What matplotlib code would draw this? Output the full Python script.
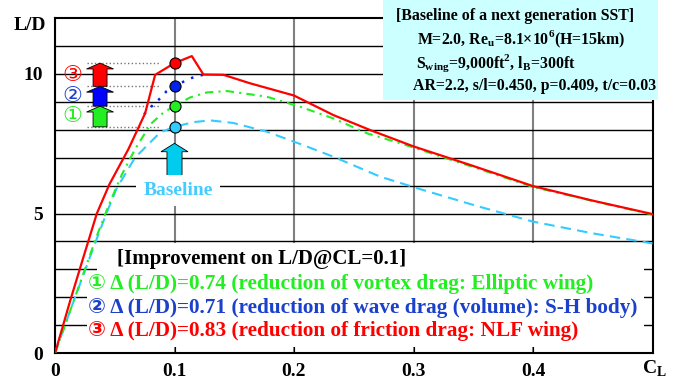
import matplotlib.pyplot as plt
from matplotlib.patches import FancyArrow, Rectangle

# baseline configuration (cyan dashed)
cl_base = [0, 0.0125, 0.025, 0.035, 0.043, 0.0516, 0.067, 0.088, 0.1, 0.116, 0.13, 0.149,
           0.177, 0.205, 0.233, 0.272, 0.3057, 0.353, 0.4, 0.45, 0.5]
ld_base = [0, 1.5, 2.95, 4.1, 5.0, 5.9, 7.0, 7.9, 8.10, 8.27, 8.33, 8.24,
           7.93, 7.49, 7.03, 6.32, 5.87, 5.27, 4.71, 4.29, 3.93]

# 1: elliptic wing (green dash-dot)
cl_ell = [0, 0.0125, 0.025, 0.035, 0.045, 0.056, 0.067, 0.08, 0.091, 0.1, 0.113, 0.127, 0.144,
          0.177, 0.205, 0.233, 0.261, 0.289, 0.3057, 0.353, 0.4, 0.45, 0.5]
ld_ell = [0, 1.5, 3.0, 4.2, 5.3, 6.4, 7.3, 8.2, 8.62, 8.84, 9.15, 9.33, 9.38,
          9.18, 8.82, 8.40, 7.87, 7.51, 7.28, 6.62, 5.95, 5.45, 4.96]

# 2: S-H body (blue dotted, only where it leaves the red curve)
cl_sh = [0.0745, 0.08, 0.088, 0.0935, 0.1, 0.11, 0.1186, 0.1242]
ld_sh = [8.55, 8.8, 9.12, 9.38, 9.55, 9.77, 9.92, 9.96]

# 3: NLF wing (red solid)
cl_nlf = [0, 0.0125, 0.0235, 0.035, 0.0456, 0.0614, 0.0754, 0.0838, 0.1, 0.1145, 0.1242,
          0.141, 0.163, 0.2, 0.233, 0.264, 0.3, 0.35, 0.4, 0.45, 0.5]
ld_nlf = [0, 1.85, 3.4, 5.0, 6.05, 7.3, 8.58, 9.96, 10.38, 10.63, 9.97,
          9.96, 9.66, 9.22, 8.52, 7.98, 7.4, 6.7, 5.98, 5.46, 4.98]

# L/D at CL=0.1 for baseline, +1, +2, +3
cl_mark = 0.1
ld_mark = [8.10, 8.84, 9.55, 10.38]
mark_colors = ['#33ccff', '#22ee22', '#0022ee', '#ff0000']

improve_labels = [
    '\u2460 \u0394 (L/D)=0.74 (reduction of vortex drag: Elliptic wing)',
    '\u2461 \u0394 (L/D)=0.71 (reduction of wave drag (volume): S-H body)',
    '\u2462 \u0394 (L/D)=0.83 (reduction of friction drag: NLF wing)',
]
improve_colors = ['#22ee22', '#1a40cc', '#ff0000']
circled = ['\u2460', '\u2461', '\u2462']

info_lines = [
    '[Baseline of a next generation SST]',
    'M=2.0, Re$_\\mathregular{u}$=8.1\u00d710$^\\mathregular{6}$(H=15km)',
    'S$_\\mathregular{wing}$=9,000ft$^\\mathregular{2}$, l$_\\mathregular{B}$=300ft',
    'AR=2.2, s/l=0.450, p=0.409, t/c=0.03',
]

plt.rcParams['font.family'] = ['Liberation Serif', 'DejaVu Sans', 'Noto Sans CJK JP']
plt.rcParams['font.weight'] = 'bold'

W, H = 682, 384
fig = plt.figure(figsize=(W / 100, H / 100), dpi=100)
ax = fig.add_axes([55 / W, 30.7 / H, 597.5 / W, 335.5 / H])
ax.set_xlim(0, 0.5)
ax.set_ylim(0, 12)
ax.set_axisbelow(True)

ax.set_xticks([0, 0.1, 0.2, 0.3, 0.4])
ax.set_xticklabels(['0', '0.1', '0.2', '0.3', '0.4'])
ax.set_yticks([0, 5, 10])
ax.set_yticks(range(1, 12), minor=True)
ax.grid(axis='y', which='both', color='black', lw=1)
ax.grid(axis='x', which='major', color='#808080', lw=1.5)
ax.tick_params(which='minor', length=0)
ax.tick_params(axis='x', direction='in', length=5, labelsize=14, pad=7)
ax.tick_params(axis='y', direction='in', length=0, labelsize=14, pad=9)
for s in ax.spines.values():
    s.set_linewidth(1.5)

# white box behind the improvement notes
ax.add_patch(Rectangle((0.027, 0.23), 0.4655, 2.67, fc='white', ec='none', zorder=1))
ax.add_patch(Rectangle((0.0352, 2.9), 0.4573, 1.05, fc='white', ec='none', zorder=1))

ax.plot(cl_base, ld_base, color='#33ccff', lw=1.5, dashes=(5, 3), zorder=3)
ax.plot(cl_ell, ld_ell, color='#22ee22', lw=1.5, dashes=(4, 2.5, 1, 2.5), zorder=3)
ax.plot(cl_sh, ld_sh, color='#0022ee', lw=1.8, dashes=(1, 3), zorder=3)
ax.plot(cl_nlf, ld_nlf, color='#ff0000', lw=1.6, zorder=4)

for ld, c in zip(ld_mark, mark_colors):
    ax.plot(cl_mark, ld, 'o', ms=8, mfc=c, mec='black', mew=0.8, zorder=6)

# reference levels and step arrows
ax.hlines(ld_mark, 0.027, 0.088, colors='#777777', linestyles=':', lw=1, zorder=2)
for i in range(3):
    lo, hi = ld_mark[i], ld_mark[i + 1]
    ax.add_patch(FancyArrow(0.0377, lo, 0, hi - lo, width=0.0117, head_width=0.0226,
                            head_length=0.21, length_includes_head=True,
                            fc=improve_colors[i] if i != 1 else '#0000ff',
                            ec='black', lw=0.6, zorder=5))
    ax.text(0.0142, (lo + hi) / 2, circled[i], color=improve_colors[i], fontsize=16,
            fontweight='normal', family=['DejaVu Sans'], ha='center', va='center', zorder=5)

# baseline arrow and label
ax.add_patch(FancyArrow(cl_mark, 6.35, 0, 1.16, width=0.0126, head_width=0.0226,
                        head_length=0.3, length_includes_head=True,
                        fc='#00ccee', ec='black', lw=0.6, zorder=5))
ax.text(0.103, 5.84, 'Baseline', color='#44ccff', fontsize=14, ha='center', va='center',
        bbox=dict(fc='white', ec='none', pad=5), zorder=5)

# improvement notes
fig.text(117 / W, 1 - 259 / H, '[Improvement on L/D@CL=0.1]', fontsize=15,
         ha='left', va='center')
for i, (t, c) in enumerate(zip(improve_labels, improve_colors)):
    fig.text(88 / W, 1 - (284 + 23.5 * i) / H, t, color=c, fontsize=15.3, ha='left', va='center')

# info box at the top right
fig.patches.append(Rectangle((383 / W, 1 - 100 / H), 275 / W, 100 / H, fc='#ccffff', ec='none',
                             transform=fig.transFigure, zorder=5))
info_x = [396, 417, 416, 413]
for i, t in enumerate(info_lines):
    fig.text(info_x[i] / W, 1 - (16 + 23.5 * i) / H, t, fontsize=11.4, ha='left', va='center',
             zorder=6)

fig.text(30 / W, 1 - 25 / H, 'L/D', fontsize=14, ha='center', va='center')
fig.text(642 / W, 1 - 369 / H, 'C$_\\mathregular{L}$', fontsize=14, ha='left', va='center')

fig.savefig('out.png', dpi=100)
